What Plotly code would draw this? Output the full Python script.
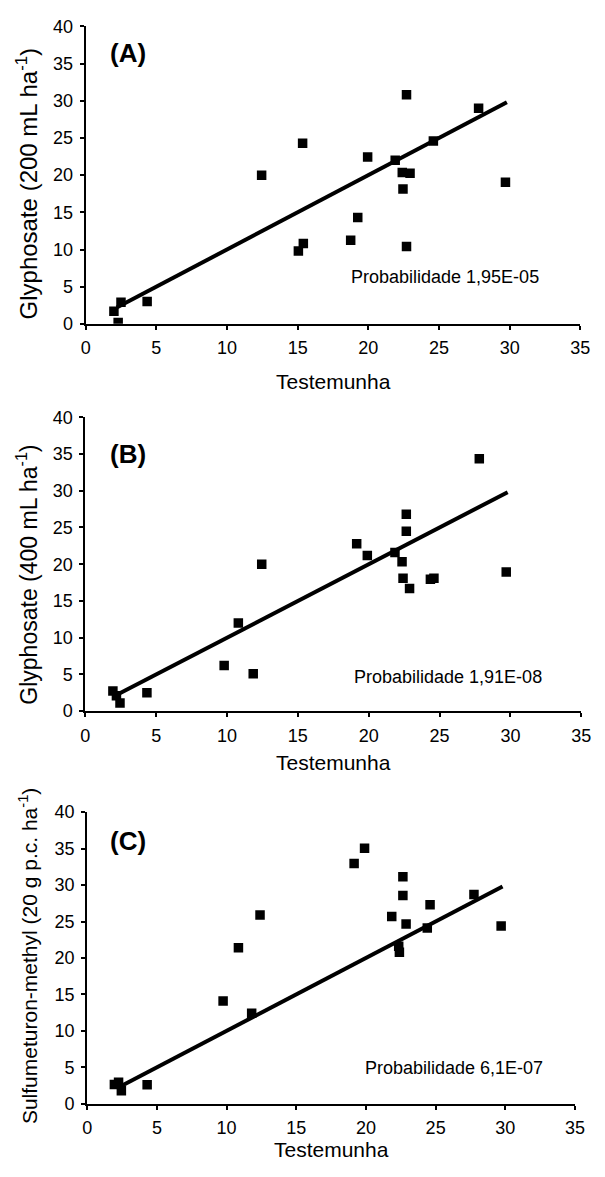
import plotly.graph_objects as go

# ---- data ----
A_x = [2.0, 2.3, 2.5, 4.35, 12.45, 15.05, 15.4, 15.35, 18.75, 19.25, 19.95, 21.9, 22.4, 22.95, 22.45, 22.7, 22.7, 24.6, 27.8, 29.7]
A_y = [1.7, 0.2, 2.9, 3.0, 20.0, 9.8, 10.8, 24.3, 11.25, 14.3, 22.45, 22.0, 20.35, 20.25, 18.15, 30.8, 10.4, 24.6, 29.0, 19.05]

B_x = [1.95, 2.2, 2.45, 4.35, 9.8, 10.8, 11.85, 12.45, 19.15, 19.9, 21.85, 22.35, 22.42, 22.65, 22.65, 22.88, 24.35, 24.6, 27.8, 29.7]
B_y = [2.75, 2.1, 1.1, 2.5, 6.2, 12.0, 5.1, 20.0, 22.8, 21.2, 21.6, 20.35, 18.1, 26.8, 24.5, 16.7, 17.95, 18.1, 34.35, 18.95]

C_x = [1.95, 2.25, 2.45, 4.3, 9.75, 10.85, 11.8, 12.4, 19.15, 19.9, 21.85, 22.35, 22.4, 22.65, 22.65, 22.88, 24.4, 24.6, 27.75, 29.7]
C_y = [2.65, 2.95, 1.8, 2.6, 14.1, 21.4, 12.4, 25.9, 32.95, 35.05, 25.7, 21.6, 20.8, 31.15, 28.55, 24.65, 24.1, 27.3, 28.7, 24.4]

# fitted line (approximately 1:1) drawn over the data x-range
fit_slope = 1.0
fit_intercept = 0.0
fit_x_start = 2.2
fit_x_end = 29.8

panel_labels = ["(A)", "(B)", "(C)"]
prob_texts = ["Probabilidade 1,95E-05", "Probabilidade 1,91E-08", "Probabilidade 6,1E-07"]
y_titles = ["Glyphosate (200 mL ha<sup>-1</sup>)",
            "Glyphosate (400 mL ha<sup>-1</sup>)",
            "Sulfumeturon-methyl (20 g p.c. ha<sup>-1</sup>)"]
x_title = "Testemunha"
x_ticks = [0, 5, 10, 15, 20, 25, 30, 35]
y_ticks = [0, 5, 10, 15, 20, 25, 30, 35, 40]

W, H = 605, 1177
FONT = "Liberation Sans, Arial, sans-serif"

# pixel boxes of each plotting area (left, right, top, bottom)
boxes = [(82.7, 590.0, 16.7, 319.3),
         (82.3, 591.0, 414.3, 713.3),
         (84.3, 584.5, 816.0, 1112.7)]
label_pos = [(3.0, 36.4), (3.04, 35.0), (2.96, 36.1)]
prob_pos = [(25.4, 6.3), (25.6, 4.7), (26.3, 4.95)]
ytitle_center_px = [176, 574, 962]
ytitle_size = [24, 23, 21]
xtitle_px = [378, 765, 1159]

series = [(A_x, A_y), (B_x, B_y), (C_x, C_y)]

fig = go.Figure()
layout = dict(width=W, height=H, margin=dict(l=0, r=0, t=0, b=0),
              paper_bgcolor="white", plot_bgcolor="white", showlegend=False,
              font=dict(family=FONT, color="black"))
annotations = []

for i, (xs, ys) in enumerate(series):
    n = "" if i == 0 else str(i + 1)
    xa, ya = "x" + n, "y" + n
    l, r, t, b = boxes[i]
    fx = [fit_x_start, fit_x_end]
    fy = [fit_intercept + fit_slope * v for v in fx]
    fig.add_trace(go.Scatter(x=fx, y=fy, mode="lines", xaxis=xa, yaxis=ya,
                             line=dict(color="black", width=4), hoverinfo="skip"))
    fig.add_trace(go.Scatter(x=xs, y=ys, mode="markers", xaxis=xa, yaxis=ya,
                             marker=dict(symbol="square", size=9.5, color="black")))
    axis_common = dict(showgrid=False, zeroline=False, showline=True, linecolor="black",
                       linewidth=2, ticks="outside", ticklen=4, tickcolor="black",
                       tickwidth=1.5, ticklabelstandoff=3,
                       tickfont=dict(family=FONT, size=18, color="black"))
    layout["xaxis" + n] = dict(axis_common, domain=[l / W, r / W], range=[0, 35],
                               tickvals=x_ticks, anchor=ya, fixedrange=True)
    layout["yaxis" + n] = dict(axis_common, domain=[1 - b / H, 1 - t / H], range=[0, 40],
                               tickvals=y_ticks, anchor=xa, fixedrange=True)
    annotations.append(dict(x=label_pos[i][0], y=label_pos[i][1], xref=xa, yref=ya,
                            text="<b>" + panel_labels[i] + "</b>", showarrow=False,
                            font=dict(family=FONT, size=26, color="black")))
    annotations.append(dict(x=prob_pos[i][0], y=prob_pos[i][1], xref=xa, yref=ya,
                            text=prob_texts[i], showarrow=False,
                            font=dict(family=FONT, size=18, color="black")))
    annotations.append(dict(x=23 / W, y=1 - ytitle_center_px[i] / H, xref="paper", yref="paper",
                            text=y_titles[i], textangle=-90, showarrow=False,
                            xanchor="center", yanchor="middle",
                            font=dict(family=FONT, size=ytitle_size[i], color="black")))
    annotations.append(dict(x=0.5, y=1 - xtitle_px[i] / H, xref=xa + " domain", yref="paper",
                            text=x_title, showarrow=False, xanchor="center", yanchor="middle",
                            font=dict(family=FONT, size=21, color="black")))

layout["annotations"] = annotations
fig.update_layout(**layout)
fig.write_html("out.html", config={"displayModeBar": False},
               post_script="document.body.style.margin='0px';document.body.style.padding='0px';")
